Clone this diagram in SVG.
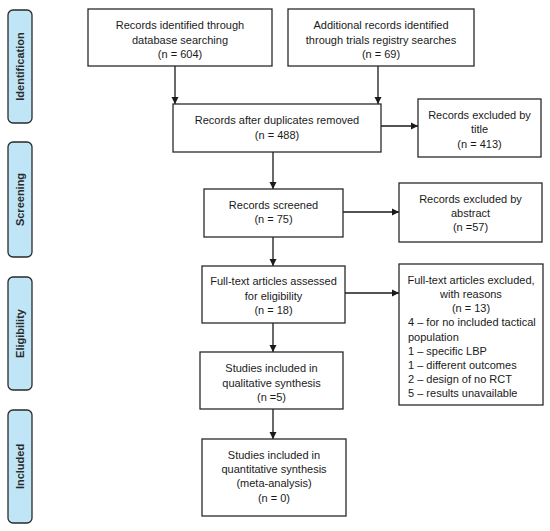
<svg xmlns="http://www.w3.org/2000/svg" width="550" height="531" viewBox="0 0 550 531">
<defs>
<marker id="ah" markerWidth="8" markerHeight="8" refX="7" refY="4" orient="auto" markerUnits="userSpaceOnUse">
<path d="M0,0.5 L7,4 L0,7.5 Z" fill="#1a1a1a"/>
</marker>
</defs>
<style>
.box{fill:#ffffff;stroke:#2a2a2a;stroke-width:1.3}
.side{fill:#bfe5f7;stroke:#2a2a2a;stroke-width:1.3}
.t{font-family:"Liberation Sans",Arial,sans-serif;font-size:11px;fill:#1a1a1a;text-anchor:middle}
.l{font-family:"Liberation Sans",Arial,sans-serif;font-size:11px;fill:#1a1a1a}
.s{font-family:"Liberation Sans",Arial,sans-serif;font-size:11px;font-weight:bold;fill:#2a2a2a;text-anchor:middle}
.c{stroke:#1a1a1a;stroke-width:1.3;fill:none;marker-end:url(#ah)}
</style>
<rect width="550" height="531" fill="#ffffff"/>
<g id="phase-identification"><rect class="side" x="8" y="10" width="24" height="113" rx="5"/><text class="s" transform="translate(24,66.5) rotate(-90)">Identification</text></g>
<g id="phase-screening"><rect class="side" x="8" y="142" width="24" height="115" rx="5"/><text class="s" transform="translate(24,199.5) rotate(-90)">Screening</text></g>
<g id="phase-eligibility"><rect class="side" x="8" y="277" width="24" height="113" rx="5"/><text class="s" transform="translate(24,333.5) rotate(-90)">Eligibility</text></g>
<g id="phase-included"><rect class="side" x="8" y="410" width="24" height="113" rx="5"/><text class="s" transform="translate(24,466.5) rotate(-90)">Included</text></g>

<g id="connectors">
<line class="c" x1="175" y1="66" x2="175" y2="104"/>
<line class="c" x1="378" y1="66" x2="378" y2="104"/>
<line class="c" x1="381" y1="126" x2="418" y2="126"/>
<line class="c" x1="273" y1="152" x2="273" y2="189"/>
<line class="c" x1="343" y1="212" x2="399" y2="212"/>
<line class="c" x1="273" y1="237" x2="273" y2="266"/>
<line class="c" x1="345" y1="293" x2="399" y2="293"/>
<line class="c" x1="273" y1="323" x2="273" y2="352"/>
<line class="c" x1="273" y1="409" x2="273" y2="439"/>
</g>

<g id="db-search"><rect class="box" x="88" y="9" width="184" height="57"/>
<text class="t" x="180" y="29">Records identified through</text>
<text class="t" x="180" y="43.5">database searching</text>
<text class="t" x="180" y="58">(n = 604)</text></g>

<g id="registry"><rect class="box" x="288" y="9" width="186" height="57"/>
<text class="t" x="381" y="29">Additional records identified</text>
<text class="t" x="381" y="43.5">through trials registry searches</text>
<text class="t" x="381" y="58">(n = 69)</text></g>

<g id="duplicates"><rect class="box" x="173" y="104" width="208" height="48"/>
<text class="t" x="277" y="124">Records after duplicates removed</text>
<text class="t" x="277" y="139">(n = 488)</text></g>

<g id="excl-title"><rect class="box" x="418" y="99" width="123" height="58"/>
<text class="t" x="479.5" y="119">Records excluded by</text>
<text class="t" x="479.5" y="133">title</text>
<text class="t" x="479.5" y="147.5">(n = 413)</text></g>

<g id="screened"><rect class="box" x="204" y="189" width="139" height="48"/>
<text class="t" x="273.5" y="209">Records screened</text>
<text class="t" x="273.5" y="223">(n = 75)</text></g>

<g id="excl-abstract"><rect class="box" x="399" y="183" width="143" height="59"/>
<text class="t" x="470.5" y="203">Records excluded by</text>
<text class="t" x="470.5" y="217">abstract</text>
<text class="t" x="470.5" y="231">(n =57)</text></g>

<g id="fulltext"><rect class="box" x="202" y="266" width="143" height="57"/>
<text class="t" x="273.5" y="285">Full-text articles assessed</text>
<text class="t" x="273.5" y="300">for eligibility</text>
<text class="t" x="273.5" y="314">(n = 18)</text></g>

<g id="excl-fulltext"><rect class="box" x="399" y="264" width="144" height="141"/>
<text class="t" x="471" y="284">Full-text articles excluded,</text>
<text class="t" x="471" y="298">with reasons</text>
<text class="t" x="471" y="312">(n = 13)</text>
<text class="l" x="408" y="326">4 – for no included tactical</text>
<text class="l" x="408" y="341">population</text>
<text class="l" x="408" y="355">1 – specific LBP</text>
<text class="l" x="408" y="369">1 – different outcomes</text>
<text class="l" x="408" y="383">2 – design of no RCT</text>
<text class="l" x="408" y="397">5 – results unavailable</text></g>

<g id="qualitative"><rect class="box" x="200" y="352" width="143" height="57"/>
<text class="t" x="271.5" y="372">Studies included in</text>
<text class="t" x="271.5" y="387">qualitative synthesis</text>
<text class="t" x="271.5" y="401">(n =5)</text></g>

<g id="quantitative"><rect class="box" x="202" y="439" width="144" height="77"/>
<text class="t" x="274" y="459">Studies included in</text>
<text class="t" x="274" y="473">quantitative synthesis</text>
<text class="t" x="274" y="487">(meta-analysis)</text>
<text class="t" x="274" y="502">(n = 0)</text></g>
</svg>
